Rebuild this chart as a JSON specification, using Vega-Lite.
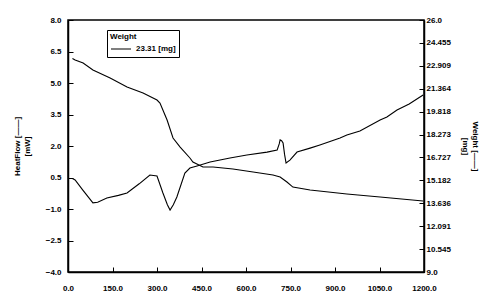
{
  "$schema": "https://vega.github.io/schema/vega-lite/v6.json",
  "width": 356,
  "height": 252,
  "autosize": {"type": "none"},
  "padding": {"left": 68, "top": 20, "right": 70, "bottom": 34},
  "background": "white",
  "config": {
    "view": {"stroke": "black", "strokeWidth": 1.5},
    "font": "Liberation Sans",
    "axis": {
      "labelFont": "Liberation Sans",
      "labelFontSize": 8,
      "labelFontWeight": "bold",
      "labelColor": "black",
      "titleFont": "Liberation Sans",
      "titleFontSize": 8,
      "titleFontWeight": "bold",
      "titleColor": "black",
      "domainColor": "black",
      "domainWidth": 1.5,
      "tickColor": "black",
      "tickWidth": 1,
      "grid": false
    }
  },
  "datasets": {
    "hf": [
      {"t": 15, "hf": 0.45}, {"t": 24, "hf": 0.38}, {"t": 50, "hf": -0.1}, {"t": 84, "hf": -0.71},
      {"t": 100, "hf": -0.68}, {"t": 131, "hf": -0.48}, {"t": 170, "hf": -0.35}, {"t": 199, "hf": -0.24},
      {"t": 240, "hf": 0.2}, {"t": 276, "hf": 0.62}, {"t": 300, "hf": 0.57}, {"t": 320, "hf": -0.24},
      {"t": 335, "hf": -0.8}, {"t": 344, "hf": -1.05}, {"t": 355, "hf": -0.8}, {"t": 367, "hf": -0.43},
      {"t": 394, "hf": 0.71}, {"t": 411, "hf": 0.95}, {"t": 435, "hf": 1.05}, {"t": 479, "hf": 1.24},
      {"t": 546, "hf": 1.43}, {"t": 603, "hf": 1.57}, {"t": 671, "hf": 1.71}, {"t": 705, "hf": 1.81},
      {"t": 712, "hf": 2.1}, {"t": 715, "hf": 2.29}, {"t": 720, "hf": 2.25}, {"t": 725, "hf": 2.14},
      {"t": 730, "hf": 1.6}, {"t": 735, "hf": 1.19}, {"t": 748, "hf": 1.33}, {"t": 772, "hf": 1.71},
      {"t": 816, "hf": 1.9}, {"t": 849, "hf": 2.05}, {"t": 917, "hf": 2.38}, {"t": 940, "hf": 2.52},
      {"t": 984, "hf": 2.71}, {"t": 1052, "hf": 3.24}, {"t": 1075, "hf": 3.38}, {"t": 1109, "hf": 3.71},
      {"t": 1150, "hf": 4.0}, {"t": 1197, "hf": 4.43}
    ],
    "wt": [
      {"t": 15, "w": 23.4, "s": "23.31 [mg]"}, {"t": 24, "w": 23.3, "s": "23.31 [mg]"}, {"t": 51, "w": 23.1, "s": "23.31 [mg]"},
      {"t": 84, "w": 22.63, "s": "23.31 [mg]"}, {"t": 142, "w": 22.09, "s": "23.31 [mg]"}, {"t": 199, "w": 21.48, "s": "23.31 [mg]"},
      {"t": 253, "w": 21.08, "s": "23.31 [mg]"}, {"t": 300, "w": 20.6, "s": "23.31 [mg]"}, {"t": 310, "w": 20.4, "s": "23.31 [mg]"},
      {"t": 334, "w": 19.25, "s": "23.31 [mg]"}, {"t": 354, "w": 18.04, "s": "23.31 [mg]"}, {"t": 378, "w": 17.43, "s": "23.31 [mg]"},
      {"t": 411, "w": 16.69, "s": "23.31 [mg]"}, {"t": 421, "w": 16.42, "s": "23.31 [mg]"}, {"t": 455, "w": 16.08, "s": "23.31 [mg]"},
      {"t": 489, "w": 16.08, "s": "23.31 [mg]"}, {"t": 556, "w": 15.95, "s": "23.31 [mg]"}, {"t": 624, "w": 15.75, "s": "23.31 [mg]"},
      {"t": 691, "w": 15.54, "s": "23.31 [mg]"}, {"t": 715, "w": 15.41, "s": "23.31 [mg]"}, {"t": 738, "w": 15.07, "s": "23.31 [mg]"},
      {"t": 758, "w": 14.73, "s": "23.31 [mg]"}, {"t": 816, "w": 14.53, "s": "23.31 [mg]"}, {"t": 940, "w": 14.26, "s": "23.31 [mg]"},
      {"t": 1052, "w": 14.06, "s": "23.31 [mg]"}, {"t": 1197, "w": 13.79, "s": "23.31 [mg]"}
    ]
  },
  "layer": [
    {
      "data": {"name": "hf"},
      "mark": {"type": "line", "color": "black", "strokeWidth": 1.1},
      "encoding": {
        "x": {
          "field": "t", "type": "quantitative",
          "scale": {"domain": [0, 1200], "nice": false, "zero": false},
          "axis": {
            "title": null,
            "values": [0, 75, 150, 225, 300, 375, 450, 525, 600, 675, 750, 825, 900, 975, 1050, 1125, 1200],
            "labelExpr": "datum.value % 150 == 0 ? format(datum.value, '.1f') : ''",
            "tickSize": {"condition": {"test": "datum.value % 150 == 0", "value": -5}, "value": -3},
            "labelPadding": 17,
            "labelFlush": false,
            "labelOverlap": false
          }
        },
        "y": {
          "field": "hf", "type": "quantitative",
          "scale": {"domain": [-4, 8], "nice": false, "zero": false},
          "axis": {
            "orient": "left",
            "title": ["HeatFlow [——]", "[mW]"],
            "titlePadding": 14,
            "values": [-4, -2.5, -1, 0.5, 2, 3.5, 5, 6.5, 8],
            "format": ".1f",
            "tickSize": -5,
            "labelPadding": 12,
            "labelFlush": false,
            "labelOverlap": false
          }
        }
      }
    },
    {
      "data": {"name": "wt"},
      "mark": {"type": "line", "strokeWidth": 1.1},
      "encoding": {
        "x": {"field": "t", "type": "quantitative"},
        "y": {
          "field": "w", "type": "quantitative",
          "scale": {"domain": [9, 26], "nice": false, "zero": false},
          "axis": {
            "orient": "right",
            "title": ["Weight [——]", "[mg]"],
            "titleAngle": 90,
            "titlePadding": 10,
            "values": [9, 10.545454, 12.090909, 13.636363, 15.181818, 16.727272, 18.272727, 19.818181, 21.363636, 22.909090, 24.454545, 26],
            "labelExpr": "abs(datum.value - 9) < 0.01 || abs(datum.value - 26) < 0.01 ? format(datum.value, '.1f') : format(datum.value, '.3f')",
            "tickSize": -5,
            "labelPadding": 7,
            "labelFlush": false,
            "labelOverlap": false
          }
        },
        "color": {
          "field": "s", "type": "nominal",
          "scale": {"domain": ["23.31 [mg]"], "range": ["black"]},
          "legend": {
            "title": "Weight",
            "orient": "none",
            "legendX": 39,
            "legendY": 10,
            "strokeColor": "black",
            "padding": 3,
            "clipHeight": 10,
            "symbolType": "stroke",
            "symbolSize": 400,
            "symbolStrokeWidth": 1.2,
            "titleFontSize": 8,
            "titleFont": "Liberation Sans",
            "titleFontWeight": "bold",
            "titlePadding": 3,
            "labelFontSize": 8,
            "labelFont": "Liberation Sans",
            "labelFontWeight": "bold"
          }
        }
      }
    }
  ],
  "resolve": {"scale": {"y": "independent"}}
}
